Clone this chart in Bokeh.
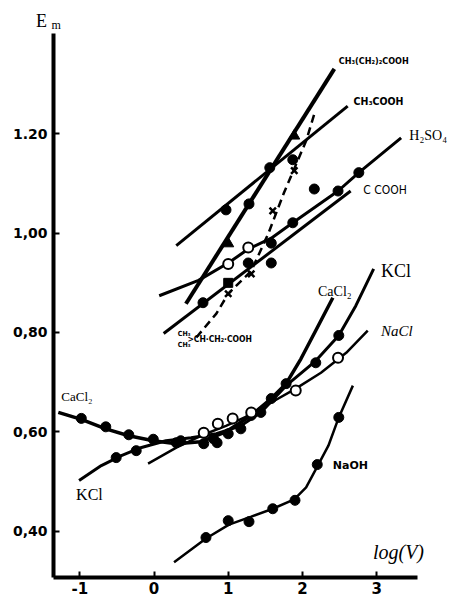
from bokeh.plotting import figure
from bokeh.models import Range1d, FixedTicker, Label
from bokeh.embed import file_html
from bokeh.resources import INLINE

# ---------------- data (log V, Em) ----------------
x_ticks = [-1, 0, 1, 2, 3]
y_ticks = [0.40, 0.60, 0.80, 1.00, 1.20]
y_tick_labels = {0.40: "0,40", 0.60: "0,60", 0.80: "0,80", 1.00: "1,00", 1.20: "1.20"}

# CH3(CH2)2COOH
but_line_x = [0.43, 2.43]
but_line_y = [0.858, 1.331]
but_tri_x = [1.00, 1.89]
but_tri_y = [0.979, 1.196]
but_pts_x = [1.28, 1.56]
but_pts_y = [1.059, 1.132]

# CH3COOH
ace_line_x = [0.30, 2.61]
ace_line_y = [0.975, 1.256]
ace_pts_x = [0.97, 1.87]
ace_pts_y = [1.047, 1.148]

# (CH3)2CH-CH2-COOH (dashed)
iso_line_x = [0.57, 0.84, 1.00, 1.31, 1.54, 1.75, 2.05, 2.16]
iso_line_y = [0.790, 0.838, 0.878, 0.924, 0.999, 1.081, 1.186, 1.240]
iso_pts_x = [1.00, 1.31, 1.60, 1.89]
iso_pts_y = [0.878, 0.918, 1.045, 1.126]

# H2SO4
h2so4_line_x = [0.07, 0.60, 1.00, 1.27, 1.58, 1.87, 2.48, 2.76, 3.33]
h2so4_line_y = [0.874, 0.905, 0.940, 0.968, 0.990, 1.021, 1.085, 1.122, 1.192]
h2so4_open_x = [1.00, 1.27]
h2so4_open_y = [0.938, 0.971]
h2so4_pts_x = [1.87, 2.48, 2.76]
h2so4_pts_y = [1.021, 1.085, 1.122]

# C COOH
ccooh_line_x = [0.13, 2.65]
ccooh_line_y = [0.798, 1.085]
ccooh_pts_x = [0.66, 1.27, 1.58]
ccooh_pts_y = [0.860, 0.940, 0.980]
ccooh_sq_x = [1.00]
ccooh_sq_y = [0.900]
stray_x = [2.16, 1.58]
stray_y = [1.089, 0.940]

# CaCl2
cacl2_line_x = [-1.29, -0.98, -0.65, -0.34, -0.01, 0.30, 0.63, 0.97, 1.31, 1.58, 1.78, 1.98, 2.18, 2.41]
cacl2_line_y = [0.639, 0.625, 0.606, 0.592, 0.582, 0.576, 0.580, 0.600, 0.633, 0.667, 0.697, 0.747, 0.804, 0.870]
cacl2_pts_x = [-0.98, -0.65, -0.34, -0.01, 0.30, 0.67, 0.85, 1.00, 1.31, 1.58]
cacl2_pts_y = [0.627, 0.610, 0.594, 0.585, 0.578, 0.576, 0.578, 0.596, 0.633, 0.667]

# KCl
kcl_line_x = [-1.01, -0.71, -0.44, -0.18, 0.16, 0.50, 0.84, 1.17, 1.44, 1.78, 2.18, 2.49, 2.72, 2.96]
kcl_line_y = [0.502, 0.532, 0.552, 0.568, 0.582, 0.588, 0.596, 0.612, 0.639, 0.693, 0.743, 0.794, 0.854, 0.928]
kcl_pts_x = [-0.51, -0.24, 0.36, 0.80, 1.17, 1.44, 1.78, 2.18, 2.49]
kcl_pts_y = [0.548, 0.562, 0.582, 0.586, 0.606, 0.639, 0.697, 0.739, 0.794]

# NaCl
nacl_line_x = [-0.08, 0.30, 0.63, 0.97, 1.31, 1.58, 1.91, 2.25, 2.59, 2.88]
nacl_line_y = [0.536, 0.568, 0.592, 0.612, 0.635, 0.659, 0.687, 0.719, 0.759, 0.804]
nacl_open_x = [0.67, 0.86, 1.06, 1.31, 1.91, 2.48]
nacl_open_y = [0.598, 0.616, 0.627, 0.639, 0.683, 0.749]

# NaOH
naoh_line_x = [0.27, 0.70, 1.01, 1.31, 1.60, 1.89, 2.05, 2.20, 2.35, 2.49, 2.68]
naoh_line_y = [0.337, 0.385, 0.413, 0.429, 0.445, 0.464, 0.488, 0.530, 0.572, 0.629, 0.693]
naoh_pts_x = [0.70, 1.00, 1.28, 1.60, 1.90, 2.20, 2.49]
naoh_pts_y = [0.387, 0.421, 0.419, 0.445, 0.462, 0.534, 0.629]

# ---------------- figure ----------------
p = figure(width=455, height=600,
           x_range=Range1d(-2.069, 4.063), y_range=Range1d(0.2602, 1.4687),
           output_backend="svg", toolbar_location=None, min_border=0)
p.outline_line_color = None
p.xgrid.visible = False
p.ygrid.visible = False
p.background_fill_color = "white"
p.border_fill_color = "white"

for ax in (p.xaxis[0], p.yaxis[0]):
    ax.axis_line_width = 4
    ax.axis_line_color = "black"
    ax.major_tick_in = 6
    ax.major_tick_out = 0
    ax.major_tick_line_width = 2
    ax.minor_tick_line_color = None
    ax.major_label_text_font = "DejaVu Sans"
    ax.major_label_text_font_style = "bold"
    ax.major_label_text_color = "black"

p.xaxis.fixed_location = 0.3065
p.xaxis.bounds = (-1.355, 3.551)
p.xaxis.ticker = FixedTicker(ticks=x_ticks)
p.xaxis.major_label_overrides = {t: str(t) for t in x_ticks}
p.xaxis.major_label_text_font_size = "15px"
p.xaxis.major_label_standoff = 4

p.yaxis.fixed_location = -1.355
p.yaxis.bounds = (0.3065, 1.402)
p.yaxis.ticker = FixedTicker(ticks=y_ticks)
p.yaxis.major_label_overrides = y_tick_labels
p.yaxis.major_label_text_font_size = "14px"
p.yaxis.major_label_standoff = 6

K = "black"
# lines
p.line(but_line_x, but_line_y, line_color=K, line_width=4)
p.line(ace_line_x, ace_line_y, line_color=K, line_width=3)
p.line(iso_line_x, iso_line_y, line_color=K, line_width=2.5, line_dash="8 5")
p.line(h2so4_line_x, h2so4_line_y, line_color=K, line_width=3)
p.line(ccooh_line_x, ccooh_line_y, line_color=K, line_width=3)
p.line(cacl2_line_x, cacl2_line_y, line_color=K, line_width=3.5)
p.line(kcl_line_x, kcl_line_y, line_color=K, line_width=3)
p.line(nacl_line_x, nacl_line_y, line_color=K, line_width=2.5)
p.line(naoh_line_x, naoh_line_y, line_color=K, line_width=2.5)

# markers
fill = dict(marker="circle", size=10, fill_color=K, line_color=K)
p.scatter(but_pts_x, but_pts_y, **fill)
p.scatter(but_tri_x, but_tri_y, marker="triangle", size=11, fill_color=K, line_color=K)
p.scatter(ace_pts_x, ace_pts_y, **fill)
p.scatter(iso_pts_x, iso_pts_y, marker="x", size=9, line_color=K, line_width=2.5)
p.scatter(h2so4_pts_x, h2so4_pts_y, **fill)
p.scatter(h2so4_open_x, h2so4_open_y, marker="circle", size=10, fill_color="white", line_color=K, line_width=2)
p.scatter(ccooh_pts_x, ccooh_pts_y, **fill)
p.scatter(ccooh_sq_x, ccooh_sq_y, marker="square", size=9, fill_color=K, line_color=K)
p.scatter(stray_x, stray_y, **fill)
p.scatter(cacl2_pts_x, cacl2_pts_y, **fill)
p.scatter(kcl_pts_x, kcl_pts_y, **fill)
p.scatter(nacl_open_x, nacl_open_y, marker="circle", size=10, fill_color="white", line_color=K, line_width=2)
p.scatter(naoh_pts_x, naoh_pts_y, **fill)

# texts
def lab(x, y, t, size, font="DejaVu Sans", style="bold", align="left"):
    p.add_layout(Label(x=x, y=y, text=t, text_font=font, text_font_size=size,
                       text_font_style=style, text_color=K, text_align=align,
                       text_baseline="middle"))

lab(-1.59, 1.427, "E", "18px", font="Liberation Serif", style="normal")
lab(-1.38, 1.420, "m", "12px", font="Liberation Serif", style="normal")
lab(2.49, 1.347, "CH₃(CH₂)₂COOH", "9px", font="DejaVu Sans Condensed")
lab(2.69, 1.266, "CH₃COOH", "10.5px", font="DejaVu Sans Condensed")
lab(3.44, 1.196, "H₂SO₄", "14px", font="Liberation Serif", style="normal")
lab(2.82, 1.087, "C COOH", "12px", font="DejaVu Sans Condensed", style="normal")
lab(0.32, 0.797, "CH₃", "7px", font="DejaVu Sans Condensed")
lab(0.32, 0.775, "CH₃", "7px", font="DejaVu Sans Condensed")
lab(0.45, 0.786, ">CH·CH₂·COOH", "8.5px", font="DejaVu Sans Condensed")
lab(2.21, 0.882, "CaCl₂", "14px", font="Liberation Serif", style="normal")
lab(3.06, 0.924, "KCl", "18px", font="Liberation Serif", style="normal")
lab(3.06, 0.804, "NaCl", "15px", font="Liberation Serif", style="italic")
lab(-1.25, 0.672, "CaCl₂", "13px", font="Liberation Serif", style="normal")
lab(-1.05, 0.474, "KCl", "16px", font="Liberation Serif", style="normal")
lab(2.41, 0.533, "NaOH", "11px", font="DejaVu Sans")
lab(2.95, 0.357, "log(V)", "20px", font="Liberation Serif", style="italic")

open("out.html", "w").write(file_html(p, INLINE))
